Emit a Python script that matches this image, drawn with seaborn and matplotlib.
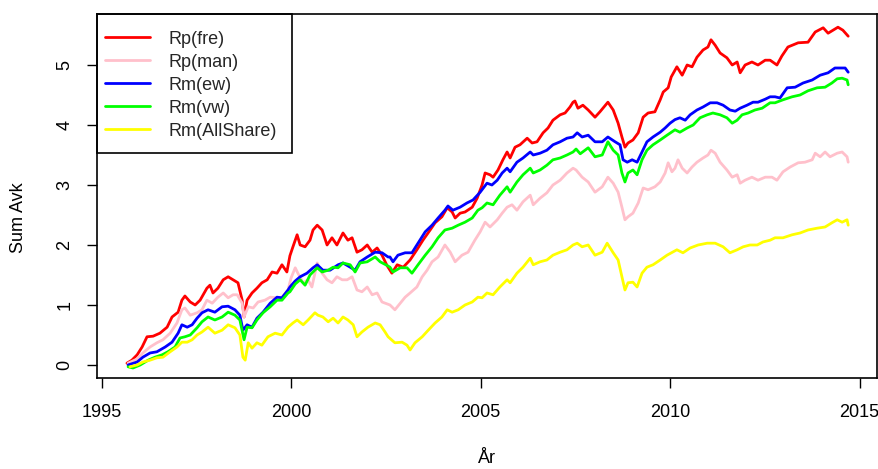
import matplotlib
matplotlib.use("Agg")
import matplotlib.pyplot as plt
from matplotlib.patches import Rectangle
import seaborn as sns
import pandas as pd

# Cumulative summed returns per strategy / market index
fre_year = [1995.67, 1995.80, 1995.94, 1996.07, 1996.20, 1996.36, 1996.54, 1996.73, 1996.86, 1997.02,
            1997.12, 1997.20, 1997.34, 1997.47, 1997.60, 1997.78, 1997.86, 1997.94, 1998.07, 1998.21,
            1998.34, 1998.47, 1998.60, 1998.71, 1998.76, 1998.84, 1998.97, 1999.10, 1999.23, 1999.37,
            1999.50, 1999.63, 1999.76, 1999.89, 1999.97, 2000.05, 2000.16, 2000.24, 2000.37, 2000.50,
            2000.58, 2000.69, 2000.82, 2000.95, 2001.08, 2001.21, 2001.37, 2001.50, 2001.61, 2001.74,
            2001.87, 2002.01, 2002.14, 2002.27, 2002.40, 2002.53, 2002.61, 2002.66, 2002.80, 2002.96,
            2003.14, 2003.32, 2003.48, 2003.67, 2003.80, 2003.98, 2004.12, 2004.25, 2004.33, 2004.46,
            2004.59, 2004.78, 2004.91, 2005.04, 2005.12, 2005.25, 2005.33, 2005.46, 2005.59, 2005.70,
            2005.78, 2005.91, 2006.04, 2006.23, 2006.36, 2006.49, 2006.65, 2006.78, 2006.91, 2007.10,
            2007.23, 2007.36, 2007.44, 2007.49, 2007.57, 2007.70, 2007.84, 2008.02, 2008.15, 2008.36,
            2008.50, 2008.63, 2008.73, 2008.81, 2008.89, 2009.02, 2009.16, 2009.29, 2009.42, 2009.60,
            2009.74, 2009.82, 2009.95, 2010.03, 2010.18, 2010.32, 2010.45, 2010.58, 2010.71, 2010.87,
            2011.00, 2011.08, 2011.19, 2011.32, 2011.50, 2011.64, 2011.77, 2011.85, 2011.98, 2012.16,
            2012.32, 2012.51, 2012.64, 2012.82, 2012.95, 2013.11, 2013.38, 2013.64, 2013.83, 2014.04,
            2014.17, 2014.43, 2014.56, 2014.70]
fre_val = [0.03, 0.08, 0.17, 0.30, 0.47, 0.48, 0.53, 0.63, 0.80, 0.88,
           1.08, 1.15, 1.05, 1.00, 1.08, 1.28, 1.33, 1.20, 1.28, 1.42,
           1.47, 1.42, 1.37, 1.08, 0.80, 1.08, 1.20, 1.28, 1.37, 1.42,
           1.55, 1.53, 1.67, 1.55, 1.82, 1.97, 2.17, 2.00, 1.97, 2.08,
           2.25, 2.33, 2.25, 2.00, 2.12, 2.00, 2.20, 2.08, 2.12, 1.88,
           1.92, 2.00, 1.88, 1.95, 1.83, 1.66, 1.58, 1.53, 1.67, 1.63,
           1.75, 1.92, 2.08, 2.25, 2.37, 2.47, 2.62, 2.55, 2.45, 2.53,
           2.55, 2.63, 2.78, 3.00, 3.20, 3.17, 3.13, 3.25, 3.42, 3.55,
           3.45, 3.63, 3.67, 3.78, 3.70, 3.72, 3.87, 3.95, 4.08, 4.17,
           4.20, 4.30, 4.38, 4.40, 4.28, 4.33, 4.25, 4.13, 4.22, 4.38,
           4.25, 4.03, 3.80, 3.63, 3.70, 3.75, 3.87, 4.13, 4.20, 4.22,
           4.42, 4.55, 4.62, 4.80, 4.97, 4.83, 5.00, 4.97, 5.13, 5.25,
           5.30, 5.42, 5.33, 5.20, 5.12, 5.00, 5.05, 4.87, 5.00, 5.05,
           5.00, 5.08, 5.08, 5.00, 5.15, 5.30, 5.37, 5.38, 5.55, 5.62,
           5.53, 5.63, 5.58, 5.48]

man_year = [1995.70, 1995.94, 1996.09, 1996.28, 1996.46, 1996.62, 1996.81, 1996.99, 1997.12, 1997.20,
            1997.34, 1997.52, 1997.65, 1997.78, 1997.92, 1998.07, 1998.21, 1998.34, 1998.47, 1998.58,
            1998.71, 1998.76, 1998.87, 1999.00, 1999.13, 1999.31, 1999.45, 1999.63, 1999.76, 1999.92,
            2000.00, 2000.11, 2000.18, 2000.32, 2000.45, 2000.55, 2000.69, 2000.82, 2000.95, 2001.08,
            2001.21, 2001.35, 2001.48, 2001.61, 2001.74, 2001.87, 2002.01, 2002.14, 2002.27, 2002.40,
            2002.53, 2002.61, 2002.74, 2002.88, 2003.01, 2003.14, 2003.32, 2003.46, 2003.59, 2003.72,
            2003.88, 2004.06, 2004.20, 2004.33, 2004.51, 2004.67, 2004.85, 2004.99, 2005.12, 2005.25,
            2005.44, 2005.57, 2005.70, 2005.83, 2005.96, 2006.12, 2006.31, 2006.39, 2006.57, 2006.75,
            2006.91, 2007.10, 2007.28, 2007.44, 2007.52, 2007.68, 2007.84, 2008.02, 2008.21, 2008.36,
            2008.50, 2008.63, 2008.73, 2008.81, 2008.89, 2009.02, 2009.16, 2009.29, 2009.42, 2009.60,
            2009.74, 2009.87, 2009.95, 2010.05, 2010.13, 2010.21, 2010.32, 2010.45, 2010.58, 2010.71,
            2010.87, 2011.00, 2011.08, 2011.19, 2011.32, 2011.50, 2011.64, 2011.77, 2011.85, 2011.98,
            2012.16, 2012.32, 2012.51, 2012.69, 2012.82, 2012.98, 2013.17, 2013.38, 2013.56, 2013.75,
            2013.83, 2013.96, 2014.09, 2014.22, 2014.41, 2014.54, 2014.67, 2014.70]
man_val = [0.03, 0.10, 0.20, 0.30, 0.37, 0.42, 0.53, 0.70, 0.92, 0.95,
           0.83, 0.87, 0.92, 1.08, 1.03, 1.13, 1.20, 1.12, 1.17, 1.17,
           1.03, 0.80, 0.97, 0.95, 1.05, 1.08, 1.13, 1.12, 1.13, 1.25,
           1.45, 1.62, 1.53, 1.37, 1.42, 1.30, 1.70, 1.53, 1.42, 1.37,
           1.47, 1.42, 1.42, 1.47, 1.25, 1.22, 1.30, 1.17, 1.20, 1.05,
           1.02, 1.00, 0.92, 1.03, 1.13, 1.20, 1.30, 1.47, 1.58, 1.72,
           1.80, 2.00, 1.88, 1.72, 1.83, 1.88, 2.08, 2.22, 2.38, 2.30,
           2.42, 2.53, 2.63, 2.67, 2.58, 2.72, 2.83, 2.67, 2.78, 2.87,
           3.00, 3.08, 3.20, 3.28, 3.25, 3.13, 3.05, 2.88, 2.97, 3.13,
           3.03, 2.88, 2.63, 2.42, 2.47, 2.53, 2.70, 2.95, 2.92, 2.97,
           3.05, 3.20, 3.37, 3.22, 3.28, 3.42, 3.28, 3.20, 3.30, 3.38,
           3.45, 3.50, 3.58, 3.53, 3.38, 3.25, 3.13, 3.17, 3.03, 3.08,
           3.13, 3.08, 3.13, 3.13, 3.08, 3.22, 3.30, 3.37, 3.38, 3.42,
           3.53, 3.47, 3.55, 3.47, 3.53, 3.55, 3.47, 3.38]

ew_year = [1995.70, 1995.94, 1996.09, 1996.28, 1996.46, 1996.68, 1996.86, 1997.02, 1997.12, 1997.26,
           1997.39, 1997.52, 1997.65, 1997.81, 1997.99, 1998.18, 1998.34, 1998.52, 1998.65, 1998.73,
           1998.84, 1998.97, 1999.10, 1999.26, 1999.45, 1999.63, 1999.76, 1999.92, 1999.97, 2000.11,
           2000.24, 2000.42, 2000.58, 2000.69, 2000.84, 2001.03, 2001.24, 2001.37, 2001.56, 2001.69,
           2001.82, 2002.01, 2002.22, 2002.40, 2002.56, 2002.61, 2002.69, 2002.82, 2003.01, 2003.19,
           2003.35, 2003.54, 2003.72, 2003.88, 2004.06, 2004.14, 2004.27, 2004.46, 2004.64, 2004.80,
           2004.99, 2005.17, 2005.30, 2005.44, 2005.57, 2005.70, 2005.78, 2005.96, 2006.12, 2006.31,
           2006.39, 2006.57, 2006.75, 2006.91, 2007.10, 2007.28, 2007.44, 2007.55, 2007.68, 2007.84,
           2008.02, 2008.21, 2008.36, 2008.55, 2008.68, 2008.76, 2008.87, 2009.00, 2009.13, 2009.26,
           2009.39, 2009.55, 2009.74, 2009.87, 2010.00, 2010.13, 2010.26, 2010.40, 2010.53, 2010.71,
           2010.87, 2011.06, 2011.24, 2011.40, 2011.58, 2011.72, 2011.85, 2012.03, 2012.19, 2012.32,
           2012.51, 2012.64, 2012.77, 2012.90, 2013.09, 2013.30, 2013.51, 2013.75, 2013.96, 2014.17,
           2014.35, 2014.49, 2014.62, 2014.70]
ew_val = [0.00, 0.05, 0.13, 0.20, 0.22, 0.30, 0.38, 0.53, 0.67, 0.63,
          0.67, 0.78, 0.87, 0.92, 0.88, 0.97, 0.98, 0.92, 0.83, 0.58,
          0.67, 0.63, 0.78, 0.88, 1.03, 1.13, 1.12, 1.25, 1.30, 1.40,
          1.47, 1.53, 1.62, 1.67, 1.58, 1.58, 1.67, 1.70, 1.63, 1.58,
          1.72, 1.80, 1.88, 1.87, 1.80, 1.80, 1.72, 1.83, 1.87, 1.87,
          2.03, 2.22, 2.33, 2.45, 2.58, 2.65, 2.58, 2.63, 2.70, 2.75,
          2.88, 3.03, 3.00, 3.08, 3.20, 3.28, 3.22, 3.38, 3.45, 3.55,
          3.50, 3.53, 3.58, 3.67, 3.72, 3.78, 3.80, 3.87, 3.80, 3.83,
          3.72, 3.72, 3.80, 3.72, 3.67, 3.42, 3.38, 3.42, 3.38, 3.55,
          3.72, 3.80, 3.88, 3.95, 4.03, 4.09, 4.12, 4.08, 4.17, 4.25,
          4.30, 4.37, 4.37, 4.33, 4.25, 4.23, 4.28, 4.33, 4.38, 4.38,
          4.43, 4.47, 4.47, 4.45, 4.62, 4.63, 4.70, 4.75, 4.83, 4.87,
          4.95, 4.95, 4.95, 4.88]

vw_year = [1995.70, 1995.83, 1996.02, 1996.23, 1996.41, 1996.60, 1996.75, 1996.94, 1997.07, 1997.20,
           1997.34, 1997.52, 1997.65, 1997.81, 1997.99, 1998.18, 1998.34, 1998.52, 1998.65, 1998.76,
           1998.84, 1998.97, 1999.10, 1999.26, 1999.45, 1999.63, 1999.76, 1999.92, 1999.97, 2000.11,
           2000.24, 2000.37, 2000.50, 2000.69, 2000.82, 2000.98, 2001.11, 2001.24, 2001.37, 2001.56,
           2001.69, 2001.82, 2002.01, 2002.22, 2002.35, 2002.53, 2002.61, 2002.69, 2002.88, 2003.06,
           2003.19, 2003.35, 2003.54, 2003.72, 2003.88, 2004.06, 2004.25, 2004.41, 2004.59, 2004.78,
           2004.93, 2005.04, 2005.17, 2005.33, 2005.51, 2005.70, 2005.78, 2005.96, 2006.12, 2006.31,
           2006.39, 2006.57, 2006.75, 2006.91, 2007.10, 2007.28, 2007.44, 2007.52, 2007.63, 2007.84,
           2008.02, 2008.21, 2008.36, 2008.50, 2008.63, 2008.73, 2008.81, 2008.89, 2009.02, 2009.13,
           2009.26, 2009.39, 2009.55, 2009.74, 2009.92, 2010.13, 2010.26, 2010.45, 2010.61, 2010.79,
           2010.98, 2011.13, 2011.32, 2011.50, 2011.64, 2011.77, 2011.90, 2012.06, 2012.24, 2012.43,
           2012.64, 2012.77, 2012.98, 2013.22, 2013.43, 2013.64, 2013.88, 2014.09, 2014.27, 2014.41,
           2014.54, 2014.67, 2014.70]
vw_val = [-0.03, -0.05, 0.00, 0.08, 0.13, 0.17, 0.22, 0.30, 0.45, 0.47,
          0.50, 0.62, 0.72, 0.80, 0.75, 0.80, 0.88, 0.83, 0.75, 0.42,
          0.63, 0.62, 0.75, 0.87, 0.97, 1.08, 1.08, 1.20, 1.22, 1.35,
          1.42, 1.33, 1.50, 1.62, 1.55, 1.58, 1.63, 1.62, 1.70, 1.67,
          1.55, 1.70, 1.72, 1.80, 1.72, 1.66, 1.63, 1.55, 1.62, 1.62,
          1.53, 1.67, 1.83, 1.97, 2.12, 2.25, 2.28, 2.33, 2.38, 2.45,
          2.58, 2.62, 2.70, 2.67, 2.83, 2.97, 2.88, 3.05, 3.17, 3.28,
          3.20, 3.25, 3.33, 3.42, 3.45, 3.50, 3.55, 3.60, 3.52, 3.62,
          3.47, 3.50, 3.72, 3.58, 3.50, 3.20, 3.05, 3.20, 3.25, 3.17,
          3.42, 3.58, 3.67, 3.75, 3.83, 3.92, 3.88, 3.95, 4.00, 4.12,
          4.17, 4.20, 4.17, 4.12, 4.03, 4.08, 4.17, 4.20, 4.25, 4.28,
          4.37, 4.37, 4.42, 4.47, 4.50, 4.57, 4.62, 4.63, 4.70, 4.77,
          4.78, 4.75, 4.67]

all_year = [1995.75, 1995.94, 1996.09, 1996.28, 1996.46, 1996.62, 1996.81, 1996.99, 1997.12, 1997.26,
            1997.39, 1997.52, 1997.65, 1997.81, 1997.99, 1998.18, 1998.34, 1998.52, 1998.65, 1998.73,
            1998.79, 1998.87, 1998.97, 1999.10, 1999.23, 1999.39, 1999.58, 1999.76, 1999.92, 2000.05,
            2000.16, 2000.32, 2000.45, 2000.63, 2000.71, 2000.84, 2000.98, 2001.11, 2001.24, 2001.37,
            2001.50, 2001.64, 2001.74, 2001.87, 2002.03, 2002.22, 2002.35, 2002.48, 2002.56, 2002.74,
            2002.93, 2003.06, 2003.14, 2003.27, 2003.46, 2003.62, 2003.80, 2003.98, 2004.12, 2004.25,
            2004.41, 2004.59, 2004.78, 2004.93, 2005.04, 2005.17, 2005.33, 2005.51, 2005.70, 2005.78,
            2005.96, 2006.12, 2006.31, 2006.39, 2006.57, 2006.75, 2006.91, 2007.10, 2007.28, 2007.44,
            2007.55, 2007.68, 2007.84, 2008.02, 2008.21, 2008.34, 2008.50, 2008.63, 2008.73, 2008.81,
            2008.89, 2009.02, 2009.13, 2009.26, 2009.39, 2009.55, 2009.74, 2009.92, 2010.18, 2010.34,
            2010.53, 2010.74, 2010.98, 2011.19, 2011.40, 2011.58, 2011.77, 2011.93, 2012.11, 2012.30,
            2012.45, 2012.64, 2012.77, 2012.98, 2013.22, 2013.43, 2013.64, 2013.88, 2014.09, 2014.27,
            2014.41, 2014.54, 2014.67, 2014.70]
all_val = [-0.03, 0.00, 0.05, 0.08, 0.12, 0.13, 0.22, 0.30, 0.38, 0.38,
           0.42, 0.50, 0.55, 0.63, 0.53, 0.58, 0.67, 0.62, 0.50, 0.13,
           0.08, 0.37, 0.28, 0.37, 0.33, 0.47, 0.53, 0.50, 0.63, 0.70,
           0.75, 0.67, 0.75, 0.87, 0.83, 0.80, 0.72, 0.78, 0.70, 0.80,
           0.75, 0.67, 0.47, 0.55, 0.63, 0.70, 0.67, 0.55, 0.47, 0.37,
           0.38, 0.33, 0.25, 0.37, 0.47, 0.58, 0.70, 0.80, 0.92, 0.88,
           0.92, 1.00, 1.05, 1.13, 1.12, 1.20, 1.17, 1.30, 1.42, 1.37,
           1.53, 1.63, 1.78, 1.67, 1.72, 1.75, 1.83, 1.88, 1.92, 2.00,
           2.03, 1.97, 2.00, 1.83, 1.88, 2.03, 1.87, 1.75, 1.47, 1.25,
           1.37, 1.38, 1.30, 1.53, 1.63, 1.67, 1.75, 1.83, 1.92, 1.87,
           1.95, 2.00, 2.03, 2.03, 1.97, 1.87, 1.92, 1.97, 2.00, 2.00,
           2.05, 2.08, 2.12, 2.12, 2.17, 2.20, 2.25, 2.28, 2.30, 2.37,
           2.42, 2.38, 2.42, 2.33]

series_names = ["Rp(fre)", "Rp(man)", "Rm(ew)", "Rm(vw)", "Rm(AllShare)"]
series_colors = ["#FF0000", "#FFC0CB", "#0000FF", "#00FF00", "#FFFF00"]
x_ticks = [1995, 2000, 2005, 2010, 2015]
y_ticks = [0, 1, 2, 3, 4, 5]

frames = []
for name, yrs, vals in zip(series_names,
                           [fre_year, man_year, ew_year, vw_year, all_year],
                           [fre_val, man_val, ew_val, vw_val, all_val]):
    frames.append(pd.DataFrame({"year": yrs, "value": vals, "series": name}))
df = pd.concat(frames, ignore_index=True)

sns.set_theme(style="white")
plt.rcParams["font.family"] = ["Liberation Sans", "DejaVu Sans"]

fig = plt.figure(figsize=(8.79, 4.69), dpi=100)
ax = fig.add_axes([97 / 879, 91 / 469, 780 / 879, 364 / 469])

sns.lineplot(data=df, x="year", y="value", hue="series", hue_order=series_names,
             palette=dict(zip(series_names, series_colors)), estimator=None,
             sort=False, linewidth=2.0, ax=ax, legend=True)

ax.set_xlim(1994.88, 2015.46)
ax.set_ylim(-0.217, 5.85)
ax.set_xticks(x_ticks)
ax.set_yticks(y_ticks)
ax.set_xticklabels([str(t) for t in x_ticks], fontsize=13, color="black")
ax.set_yticklabels([str(t) for t in y_ticks], fontsize=13, color="black",
                   rotation=90, va="center")
ax.tick_params(axis="both", direction="out", length=7, width=1, color="black",
               bottom=True, left=True)
ax.tick_params(axis="x", pad=12)
ax.tick_params(axis="y", pad=10)
for sp in ax.spines.values():
    sp.set_visible(True)
    sp.set_color("black")
    sp.set_linewidth(1.2)

ax.set_xlabel("År", fontsize=13, color="black")
ax.set_ylabel("Sum Avk", fontsize=13, color="black")
ax.xaxis.label.set_va("center")
ax.yaxis.label.set_va("center")
ax.xaxis.set_label_coords(0.5, -0.22)
ax.yaxis.set_label_coords(-0.101, 0.44)

# Legend entries without their own frame; the box is drawn separately
handles, labels = ax.get_legend_handles_labels()
leg = ax.legend(handles, labels, loc="upper left", bbox_to_anchor=(0.0103, 0.954),
                borderaxespad=0, borderpad=0, frameon=False,
                fontsize=13, handlelength=2.5, handletextpad=1.0, labelspacing=0.33)
for line in leg.get_lines():
    line.set_linewidth(2.0)
ax.add_patch(Rectangle((0, (378 - 153) / 364), (292 - 97) / 780, (153 - 14) / 364,
                       transform=ax.transAxes, fill=False, edgecolor="black",
                       linewidth=1.2, zorder=5, clip_on=False))

fig.savefig("out.png", dpi=100, facecolor="white")
